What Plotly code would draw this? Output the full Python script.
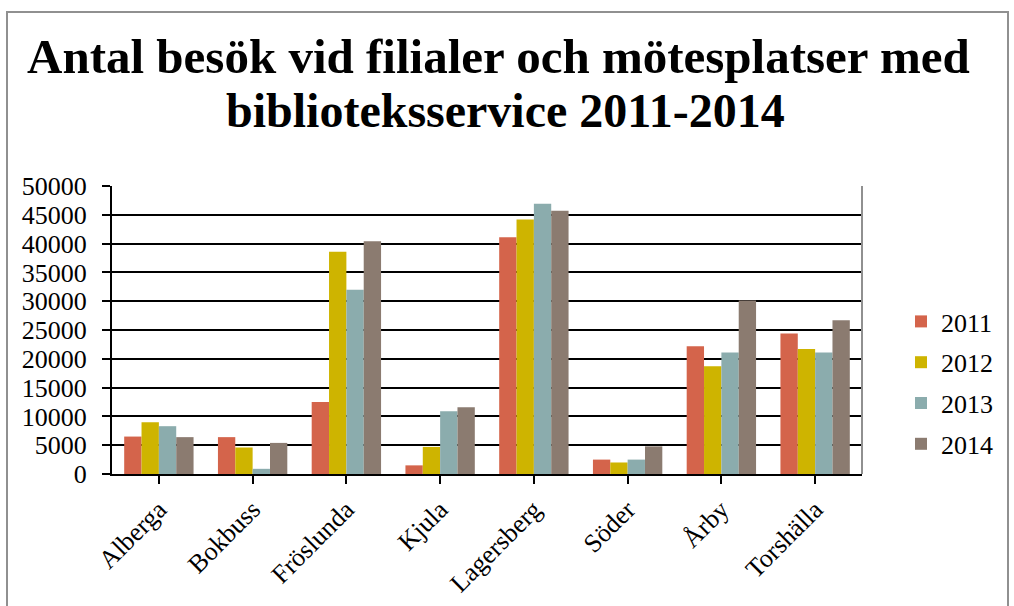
import plotly.graph_objects as go

categories = ["Alberga", "Bokbuss", "Fröslunda", "Kjula", "Lagersberg", "Söder", "Årby", "Torshälla"]
years = ["2011", "2012", "2013", "2014"]
v2011 = [6500, 6400, 12500, 1500, 41100, 2500, 22200, 24400]
v2012 = [9000, 4600, 38600, 4700, 44200, 2000, 18700, 21700]
v2013 = [8300, 900, 32000, 10900, 46900, 2500, 21100, 21100]
v2014 = [6400, 5400, 40400, 11600, 45700, 4800, 30100, 26700]
colors = ["#D4644B", "#CEB400", "#8BACAD", "#8B7B70"]
yticks = [0, 5000, 10000, 15000, 20000, 25000, 30000, 35000, 40000, 45000, 50000]
title_lines = ["Antal besök vid filialer och mötesplatser med", "biblioteksservice 2011-2014"]

FONT = "Liberation Serif, Times New Roman, serif"

fig = go.Figure()
for name, vals, col in zip(years, [v2011, v2012, v2013, v2014], colors):
    fig.add_trace(go.Bar(name=name, x=categories, y=vals, legendgroup=name,
                         marker=dict(color=col, line=dict(width=0))))

L, R, T, B = 112, 152, 186, 132
W, H = 1014, 606
pw, ph = W - L - R, H - T - B

def px_x(x):
    return (x - L) / pw

def px_y(y):
    return (H - B - y) / ph

annotations = [
    dict(text="<b>%s</b>" % title_lines[0], xref="paper", yref="paper",
         x=px_x(498), y=px_y(57), xanchor="center", yanchor="middle", showarrow=False,
         font=dict(family=FONT, size=49, color="black")),
    dict(text="<b>%s</b>" % title_lines[1], xref="paper", yref="paper",
         x=px_x(505), y=px_y(110), xanchor="center", yanchor="middle", showarrow=False,
         font=dict(family=FONT, size=48, color="black")),
]

fig.update_layout(
    width=W, height=H,
    margin=dict(l=L, r=R, t=T, b=B, autoexpand=False),
    paper_bgcolor="white", plot_bgcolor="white",
    barmode="group", bargap=0.26, bargroupgap=0,
    font=dict(family=FONT, color="black", size=26),
    annotations=annotations,
    legend=dict(
        x=px_x(901), xanchor="left", y=px_y(383), yanchor="middle",
        font=dict(family=FONT, size=26), bgcolor="rgba(0,0,0,0)",
        itemwidth=30, tracegroupgap=4,
    ),
    xaxis=dict(
        tickangle=-45, showgrid=False, showline=True, linecolor="black", linewidth=2,
        ticks="outside", ticklen=8, tickcolor="black", tickwidth=2,
        tickfont=dict(family=FONT, size=26), automargin=False,
    ),
    yaxis=dict(
        range=[0, 50000], tickvals=yticks, ticktext=[str(v) for v in yticks],
        showgrid=True, gridcolor="black", gridwidth=2,
        showline=True, linecolor="black", linewidth=2,
        ticks="outside", ticklen=8, tickcolor="black", tickwidth=2, ticklabelstandoff=10,
        tickfont=dict(family=FONT, size=26), zeroline=False, automargin=False,
    ),
    shapes=[
        dict(type="rect", xref="paper", yref="paper",
             x0=px_x(7), x1=px_x(1008), y0=px_y(620), y1=px_y(12),
             line=dict(color="#909090", width=2), fillcolor="rgba(0,0,0,0)", layer="below"),
        dict(type="line", xref="paper", yref="paper",
             x0=1, x1=1, y0=0, y1=1, line=dict(color="#909090", width=2)),
    ],
)

fig.write_html("out.html", config={"displayModeBar": False},
               post_script="document.body.style.margin='0px';")
